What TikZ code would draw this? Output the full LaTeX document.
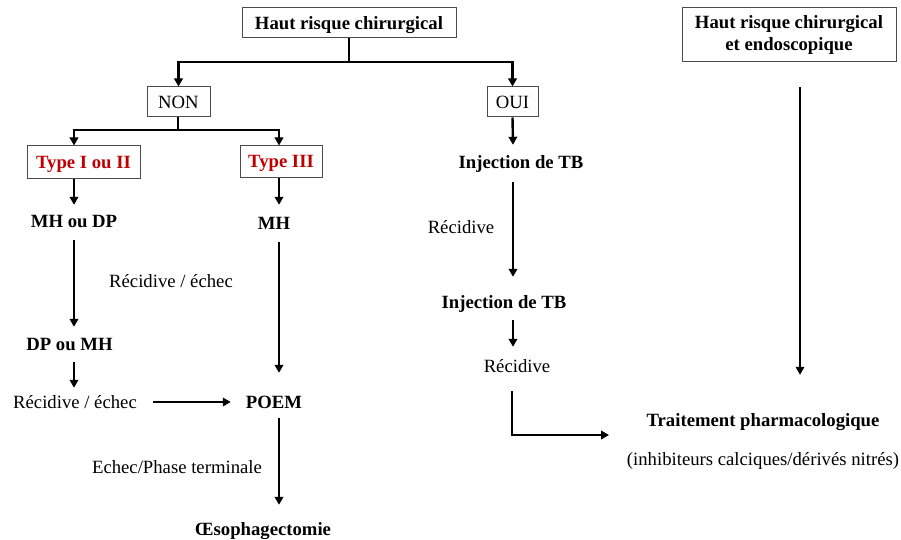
\documentclass[tikz,border=0pt]{standalone}
\usepackage{fontspec}
\setmainfont{Liberation Serif}
\usetikzlibrary{arrows.meta,calc}
\definecolor{darkred}{HTML}{C00000}
\begin{document}
\begin{tikzpicture}[x=1pt,y=-1pt,
  font=\fontsize{18.7}{22}\selectfont,
  box/.style={draw=black!70,line width=1pt,inner sep=0pt,align=center},
  onel/.style={text height=12.6pt,text depth=0pt},
  lbl/.style={inner sep=0pt,text height=12.6pt,text depth=0pt},
  bl/.style={lbl,font=\fontsize{18.7}{22}\selectfont\bfseries},
  redtxt/.style={text=darkred,font=\fontsize{18.7}{22}\selectfont\bfseries},
  conn/.style={line width=2.4pt},
  arr/.style={conn,-{Triangle[length=8pt,width=8.5pt]}}]
\useasboundingbox (0,0) rectangle (901,540);

% boxes
\node[box,onel,minimum width=214pt,minimum height=30pt,font=\fontsize{18.7}{22}\selectfont\bfseries] (top) at (349,23) {Haut risque chirurgical};
\node[box,onel,minimum width=63pt,minimum height=30pt] (non) at (178.5,102) {NON};
\node[box,onel,minimum width=51pt,minimum height=30pt] (oui) at (512.5,102) {OUI};
\node[box,onel,redtxt,minimum width=113pt,minimum height=32pt] (t12) at (83.5,162) {Type I ou II};
\node[box,onel,redtxt,minimum width=82pt,minimum height=31pt] (t3) at (281,161.5) {Type III};
\node[box,minimum width=214pt,minimum height=54pt,font=\fontsize{18.7}{22}\selectfont\bfseries] (rbox) at (789,35) {Haut risque chirurgical\\et endoscopique};

% text nodes
\node[bl] (mhdp) at (74,221) {MH ou DP};
\node[bl] (mh) at (274,223) {MH};
\node[lbl] (rec1) at (171,281) {Récidive / échec};
\node[bl] (dpmh) at (69.5,344) {DP ou MH};
\node[lbl] (rec2) at (75,402) {Récidive / échec};
\node[bl] (poem) at (274,402) {POEM};
\node[lbl] (echec) at (177,467) {Echec/Phase terminale};
\node[bl] (oeso) at (263,529) {Œsophagectomie};
\node[bl] (inj1) at (521,162) {Injection de TB};
\node[lbl] (recA) at (461,227) {Récidive};
\node[bl] (inj2) at (504,302) {Injection de TB};
\node[lbl] (recB) at (517,366) {Récidive};
\node[bl] (trait) at (763,420) {Traitement pharmacologique};
\node[lbl] (inhib) at (763,459) {(inhibiteurs calciques/dérivés nitrés)};

\coordinate (j1) at (349,62);
\coordinate (j2) at (178,130);
\coordinate (tend) at (609,435);

% connectors
\draw[conn] (top.south) -- (j1);
\draw[arr] (j1) -| (non.north);
\draw[arr] (j1) -| (oui.north);
\draw[conn] (non.south -| j2) -- (j2);
\draw[arr] (j2) -| ($(t12.north)+(-9.5,0)$);
\draw[arr] (j2) -| ($(t3.north)+(-2,0)$);

\draw[arr] ($(t12.south)+(-9.5,0)$) -- ($(mhdp.north)+(0,-9.7)$);
\draw[arr] ($(t3.south)+(-2,0)$) -- ($(mh.north)+(5,-11.7)$);
\draw[arr] ($(mhdp.south)+(0,12.7)$) -- ($(dpmh.north)+(4.5,-10.7)$);
\draw[arr] ($(dpmh.south)+(4.5,11.7)$) -- ($(rec2.north)+(-1,-7.7)$);
\draw[arr] ($(rec2.east)+(16,0)$) -- ($(poem.west)+(-15,0)$);
\draw[arr] ($(mh.south)+(5,12.7)$) -- ($(poem.north)+(5,-22.7)$);
\draw[arr] ($(poem.south)+(5,9.7)$) -- ($(oeso.north)+(16,-17.7)$);

\draw[arr] (oui.south) -- ($(inj1.north)+(-8,-10.7)$);
\draw[arr] ($(inj1.south)+(-8,13.7)$) -- ($(inj2.north)+(9,-18.7)$);
\draw[arr] ($(inj2.south)+(9,11.7)$) -- ($(recB.north)+(-4,-12.7)$);
\draw[arr] ($(recB.south)+(-5,18.7)$) |- (tend);

\draw[arr] ($(rbox.south)+(11,25)$) -- ($(trait.north)+(37,-38.7)$);
\end{tikzpicture}
\end{document}
